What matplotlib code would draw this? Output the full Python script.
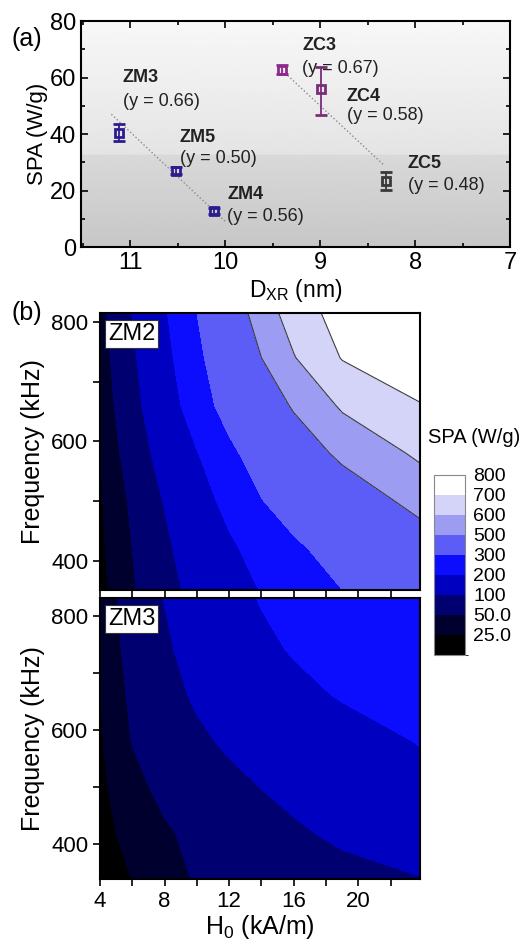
import numpy as np
import matplotlib
matplotlib.use('Agg')
from matplotlib import pyplot as plt
from matplotlib.colors import ListedColormap, BoundaryNorm
from matplotlib.ticker import MultipleLocator
import matplotlib.colorbar as mcolorbar

plt.rcParams['font.family'] = ['Liberation Sans', 'DejaVu Sans']
plt.rcParams['mathtext.default'] = 'regular'

# ---- panel (a): SPA vs crystallite size ----
samples = ['ZM3', 'ZM5', 'ZM4', 'ZC3', 'ZC4', 'ZC5']
gammas = ['0.66', '0.50', '0.56', '0.67', '0.58', '0.48']
d_xr = [11.12, 10.52, 10.12, 9.40, 8.99, 8.31]
spa = [40.5, 27.0, 12.8, 62.8, 55.9, 23.3]
spa_err_lo = [3.0, 1.2, 1.0, 1.5, 9.0, 3.2]
spa_err_hi = [3.0, 1.2, 1.0, 1.5, 8.0, 3.4]
# fitted trend lines (end points)
zm_fit_x = [11.2, 10.0]
zm_fit_y = [47.0, 9.0]
zc_fit_x = [9.4, 8.33]
zc_fit_y = [62.5, 29.0]
# label anchor positions (left edge of text)
lab_x = [11.08, 10.48, 9.98, 9.19, 8.72, 8.08]
lab_y = [60.0, 38.8, 18.5, 71.3, 53.4, 29.5]
gam_y = [51.6, 31.3, 10.7, 63.3, 46.4, 21.8]
marker_colors = ['#2b1d8f', '#2b1d8f', '#2b1d8f', '#8e2a8e', '#7b2d7b', '#3a3a3a']

# ---- panel (b): SPA maps ----
h_field = [4, 6, 8, 10, 12, 14, 16, 19, 24]           # kA/m
freq = [335, 420, 500, 580, 660, 740, 835]             # kHz
spa_zm2 = [
    [18, 45, 78, 115, 156, 198, 235, 289, 370],
    [20, 50, 88, 135, 185, 233, 281, 345, 443],
    [22, 55, 103, 162, 225, 296, 349, 426, 540],
    [24, 66, 125, 196, 276, 354, 431, 524, 620],
    [28, 78, 152, 247, 343, 428, 512, 613, 697],
    [32, 88, 173, 274, 386, 500, 595, 705, 780],
    [38, 105, 195, 307, 445, 563, 657, 750, 874],
]
spa_zm3 = [
    [11, 25, 40, 52, 58, 64, 70, 80, 96],
    [18, 32, 46, 58, 69, 81, 92, 111, 147],
    [20, 41, 58, 72, 86, 101, 115, 138, 175],
    [22, 51, 71, 90, 108, 124, 141, 165, 205],
    [24, 56, 82, 107, 131, 154, 178, 206, 240],
    [27, 62, 91, 122, 152, 183, 206, 226, 260],
    [29, 68, 102, 138, 175, 206, 226, 252, 291],
]
levels = [0, 25, 50, 100, 200, 300, 500, 600, 700, 800]
level_labels = ['25.0', '50.0', '100', '200', '300', '500', '600', '700', '800']
band_colors = ['#000000', '#00002e', '#000070', '#0000c0', '#0c0cff',
               '#5c5cf6', '#9c9cf3', '#d4d4f8', '#ffffff']

fig = plt.figure(figsize=(5.26, 9.4), dpi=100)

# ---------------- (a) ----------------
ax1 = fig.add_axes([0.154, 0.7372, 0.816, 0.2404])
grad = np.concatenate([np.linspace(0.97, 0.895, 65),
                       np.linspace(0.85, 0.78, 45)])[:, None]
ax1.imshow(grad, cmap='gray', vmin=0, vmax=1, aspect='auto',
           extent=[0, 1, 0, 1], transform=ax1.transAxes, zorder=0)
ax1.plot(zm_fit_x, zm_fit_y, ':', color='#8a8a8a', lw=1.0, zorder=1)
ax1.plot(zc_fit_x, zc_fit_y, ':', color='#8a8a8a', lw=1.0, zorder=1)
for i in range(len(samples)):
    ax1.errorbar(d_xr[i], spa[i], yerr=[[spa_err_lo[i]], [spa_err_hi[i]]],
                 fmt='s', ms=6, mfc='none', mec=marker_colors[i], mew=2.0,
                 ecolor=marker_colors[i], elinewidth=1.3, capsize=4,
                 capthick=1.3, zorder=3)
    ax1.text(lab_x[i], lab_y[i], samples[i], fontsize=13, fontweight='bold',
             color='#222222', ha='left', va='center', zorder=4)
    ax1.text(lab_x[i], gam_y[i], '(y = %s)' % gammas[i], fontsize=13,
             color='#222222', ha='left', va='center', zorder=4)
ax1.set_xlim(11.52, 7.0)
ax1.set_ylim(0, 80)
ax1.xaxis.set_major_locator(MultipleLocator(1))
ax1.xaxis.set_minor_locator(MultipleLocator(0.5))
ax1.yaxis.set_major_locator(MultipleLocator(20))
ax1.yaxis.set_minor_locator(MultipleLocator(10))
ax1.tick_params(which='both', direction='in', top=True, right=True,
                labelsize=17, width=1.2)
ax1.tick_params(which='major', length=5)
ax1.tick_params(which='minor', length=3)
for s in ax1.spines.values():
    s.set_linewidth(1.5)
ax1.set_xlabel(r'D$_{XR}$ (nm)', fontsize=16.5, labelpad=2)
ax1.set_ylabel('SPA (W/g)', fontsize=16, labelpad=1)
fig.text(0.022, 1 - 39 / 940, '(a)', fontsize=18, va='center', ha='left')
fig.text(0.022, 1 - 313 / 940, '(b)', fontsize=18, va='center', ha='left')

# ---------------- (b) ----------------
cmap = ListedColormap(band_colors)
fill_levels = levels[:-1] + [2000]
H, F = np.meshgrid(h_field, freq)

ax2 = fig.add_axes([0.190, 0.3723, 0.608, 0.2947])
ax3 = fig.add_axes([0.190, 0.0649, 0.608, 0.2990])
panels = [(ax2, spa_zm2, 'ZM2', (351, 815)), (ax3, spa_zm3, 'ZM3', (339, 831))]
for ax, z, name, ylim in panels:
    z = np.array(z, dtype=float)
    ax.contourf(H, F, z, levels=fill_levels, colors=band_colors)
    if name == 'ZM2':
        ax.contour(H, F, z, levels=[500, 600, 700], colors='#3a3a3a',
                   linewidths=0.8)
    ax.set_xlim(4, 23.8)
    ax.set_ylim(*ylim)
    ax.xaxis.set_major_locator(MultipleLocator(4))
    ax.xaxis.set_minor_locator(MultipleLocator(2))
    ax.yaxis.set_major_locator(MultipleLocator(200))
    ax.yaxis.set_minor_locator(MultipleLocator(100))
    ax.tick_params(which='both', direction='out', labelsize=16, width=1.2)
    ax.tick_params(which='major', length=5)
    ax.tick_params(which='minor', length=5)
    for s in ax.spines.values():
        s.set_linewidth(1.5)
    ax.set_ylabel('Frequency (kHz)', fontsize=18, labelpad=4)
    ax.text(0.025, 0.965, name, transform=ax.transAxes, fontsize=17,
            ha='left', va='top',
            bbox=dict(boxstyle='square,pad=0.12', fc='white', ec='#333333',
                      lw=0.8))
ax2.tick_params(labelbottom=False)
ax3.set_xlabel(r'H$_0$ (kA/m)', fontsize=18, labelpad=1)

# colour scale
cax = fig.add_axes([0.825, 0.3032, 0.059, 0.1915])
norm = BoundaryNorm(levels, cmap.N)
cb = mcolorbar.ColorbarBase(cax, cmap=cmap, norm=norm, boundaries=levels,
                            spacing='uniform', ticks=levels[1:])
cb.ax.set_yticklabels(level_labels)
cb.ax.tick_params(length=0, labelsize=14, pad=6)
cb.outline.set_edgecolor('#888888')
cb.outline.set_linewidth(0.8)
fig.text(0.814, 1 - 438 / 940, 'SPA (W/g)', fontsize=14.5, ha='left',
         va='center')

fig.savefig('out.png', dpi=100)
